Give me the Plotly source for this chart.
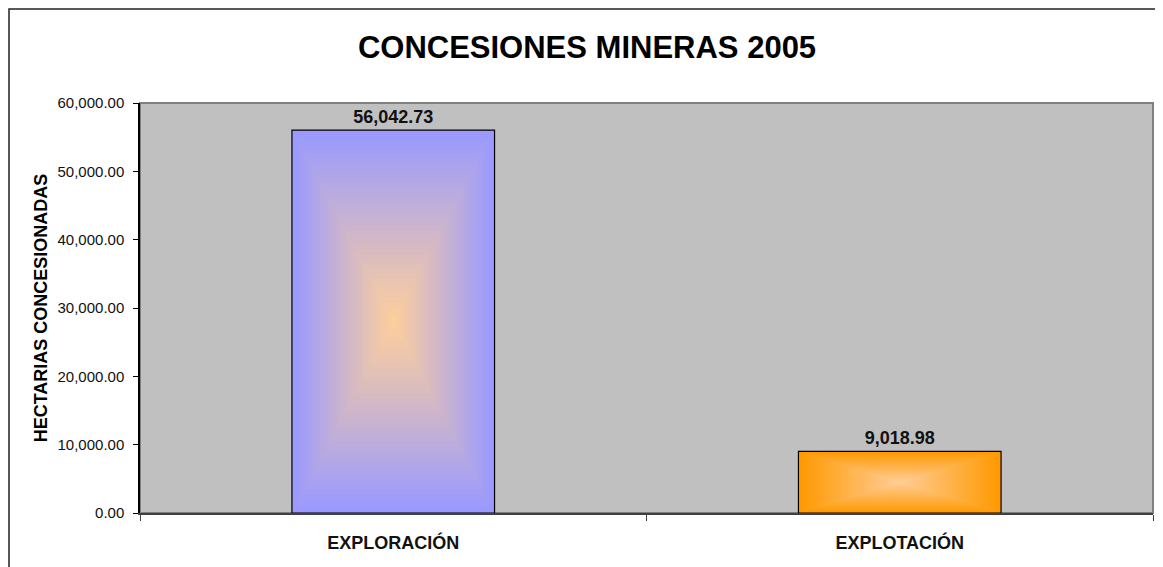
import plotly.graph_objects as go

# data
categories = ['EXPLORACIÓN', 'EXPLOTACIÓN']
hectares = [56042.73, 9018.98]

edge_colors = [(153, 153, 255), (255, 153, 0)]
center_colors = [(255, 208, 154), (255, 206, 154)]

FONT = 'Liberation Sans, Arial, sans-serif'
BAR_WIDTH = 0.4
N_LAYERS = 40


def blend(c0, c1, t):
    r, g, b = (round(a + (b_ - a) * t) for a, b_ in zip(c0, c1))
    return f'rgb({r},{g},{b})'


fig = go.Figure()

# fake "from center" gradient: nested bars shrinking towards the middle of each bar
for k in range(N_LAYERS):
    t = k / N_LAYERS
    fig.add_trace(go.Bar(x=categories,
                         y=[v * (1 - t) for v in hectares],
                         base=[v * t / 2 for v in hectares],
                         width=BAR_WIDTH * (1 - t),
                         marker=dict(color=[blend(e, c, t) for e, c in zip(edge_colors, center_colors)],
                                     line=dict(width=0)),
                         hoverinfo='skip',
                         showlegend=False))

# outline + value labels
fig.add_trace(go.Bar(x=categories, y=hectares,
                     width=BAR_WIDTH,
                     marker=dict(color='rgba(0,0,0,0)', line=dict(color='black', width=1.2)),
                     texttemplate='%{y:,.2f}',
                     textposition='outside',
                     textfont=dict(family=FONT, size=18, color='#111', weight='bold'),
                     cliponaxis=False,
                     showlegend=False))

# the page body adds ~8px of offset, so margins are trimmed to compensate
fig.update_layout(
    width=1163, height=567,
    barmode='overlay',
    paper_bgcolor='white',
    plot_bgcolor='#C0C0C0',
    margin=dict(l=132, r=18, t=95, b=62),
    font=dict(family=FONT, color='#111'),
    title=dict(text='<b>CONCESIONES MINERAS 2005</b>',
               x=579 / 1163, xanchor='center', y=1 - 39 / 567, yanchor='middle',
               font=dict(family=FONT, size=31, color='black')),
    showlegend=False,
)

fig.update_xaxes(showgrid=False, showline=True, linecolor='#404040', linewidth=2,
                 ticks='outside', ticklen=6, tickcolor='#404040', tickson='boundaries',
                 ticklabelstandoff=12,
                 tickfont=dict(family=FONT, size=18, color='#111', weight='bold'))

fig.update_yaxes(range=[0, 60000], dtick=10000, tickformat=',.2f',
                 showgrid=False, zeroline=False,
                 showline=True, linecolor='black', linewidth=1.5,
                 ticks='outside', ticklen=5, tickcolor='black',
                 ticklabelstandoff=6,
                 tickfont=dict(family=FONT, size=15, color='#111'),
                 title=dict(text='<b>HECTARIAS CONCESIONADAS</b>', standoff=5,
                            font=dict(family=FONT, size=18, color='black')))

# plot area frame (grey) and outer chart frame
fig.add_shape(type='rect', xref='paper', yref='paper', x0=0, x1=1, y0=0, y1=1,
              line=dict(color='#808080', width=2), layer='below')
fig.add_shape(type='rect', xref='paper', yref='paper',
              x0=-131 / 1013, x1=1.03, y0=504 / 410, y1=-0.2,
              line=dict(color='#222', width=1.5))

fig.write_html('out.html')
